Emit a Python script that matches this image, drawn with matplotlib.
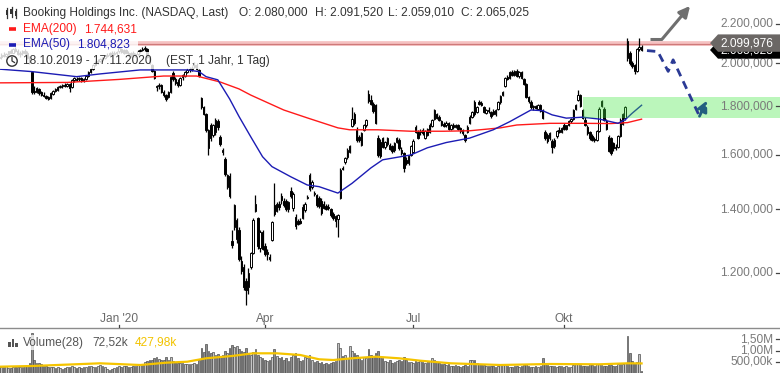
import matplotlib
matplotlib.use("Agg")
import matplotlib.pyplot as plt
import numpy as np
from matplotlib.patches import Polygon, Rectangle, Circle
from matplotlib.ticker import NullLocator
from matplotlib.transforms import blended_transform_factory

W, H = 780, 373
plt.rcParams["font.family"] = ["Liberation Sans", "DejaVu Sans"]

# daily candles 18.10.2019 - 17.11.2020 (one entry per trading day)
opens = [
    2025, 2030, 2042, 2035, 2046, 2058, 2052, 2070, 2060, 2045,
    2050, 2060, 2050, 2025, 1955, 1868, 1865, 1878, 1862, 1852,
    1846, 1840, 1836, 1856, 1868, 1875, 1888, 1890, 1896, 1892,
    1900, 1888, 1918, 1926, 1922, 1928, 1915, 1922, 1938, 1958,
    1970, 1990, 2005, 2012, 2018, 2026, 2034, 2042, 2050, 2046,
    2052, 2058, 2070, 2052, 2066, 2052, 2042, 2048, 2038, 2046,
    2060, 2066, 2070, 2072, 2030, 1990, 1960, 1885, 1890, 1895,
    1862, 1850, 1840, 1865, 1950, 1925, 1912, 1895, 1932, 1940,
    1955, 1968, 1972, 1980, 1990, 1968, 1837, 1795, 1765, 1625,
    1722, 1680, 1690, 1738, 1672, 1610, 1585, 1480, 1520, 1296,
    1340, 1302, 1330, 1235, 1218, 1175, 1160, 1218, 1260, 1395,
    1370, 1275, 1325, 1280, 1255, 1248, 1300, 1415, 1395, 1418,
    1445, 1430, 1430, 1400, 1465, 1405, 1375, 1360, 1362, 1372,
    1398, 1440, 1470, 1478, 1455, 1450, 1440, 1430, 1420, 1412,
    1410, 1400, 1385, 1362, 1368, 1440, 1548, 1570, 1590, 1610,
    1715, 1765, 1700, 1672, 1640, 1700, 1718, 1855, 1830, 1812,
    1805, 1668, 1650, 1665, 1630, 1642, 1640, 1635, 1618, 1650,
    1660, 1620, 1605, 1580, 1568, 1600, 1610, 1712, 1690, 1690,
    1700, 1668, 1680, 1690, 1715, 1745, 1765, 1755, 1735, 1725,
    1718, 1728, 1705, 1718, 1712, 1720, 1706, 1698, 1680, 1690,
    1730, 1755, 1820, 1775, 1820, 1815, 1795, 1772, 1786, 1775,
    1780, 1765, 1790, 1818, 1850, 1892, 1935, 1928, 1955, 1944,
    1962, 1940, 1955, 1925, 1900, 1840, 1820, 1796, 1800, 1790,
    1805, 1782, 1690, 1680, 1665, 1655, 1635, 1675, 1700, 1690,
    1722, 1705, 1718, 1735, 1745, 1790, 1828, 1850, 1784, 1740,
    1712, 1690, 1675, 1662, 1660, 1695, 1800, 1790, 1738, 1670,
    1665, 1645, 1630, 1630, 1675, 1724, 1748, 2025, 2050, 2000,
    1990, 1962, 2070, 2080,
]
highs = [
    2040, 2048, 2055, 2050, 2062, 2070, 2075, 2078, 2068, 2058,
    2065, 2070, 2058, 2035, 1962, 1892, 1886, 1884, 1870, 1862,
    1852, 1846, 1862, 1872, 1880, 1893, 1898, 1900, 1905, 1906,
    1904, 1925, 1932, 1934, 1932, 1935, 1928, 1945, 1962, 1975,
    1995, 2012, 2020, 2025, 2030, 2040, 2048, 2055, 2060, 2058,
    2060, 2078, 2076, 2070, 2072, 2060, 2055, 2058, 2052, 2065,
    2072, 2078, 2085, 2076, 2035, 1998, 1965, 1898, 1905, 1900,
    1872, 1855, 1870, 1940, 1960, 1935, 1922, 1935, 1948, 1962,
    1975, 1980, 1988, 2005, 2000, 1972, 1842, 1802, 1770, 1705,
    1728, 1725, 1750, 1745, 1680, 1625, 1592, 1528, 1530, 1330,
    1420, 1370, 1340, 1250, 1225, 1185, 1215, 1262, 1370, 1450,
    1375, 1330, 1330, 1290, 1270, 1255, 1362, 1495, 1425, 1428,
    1458, 1440, 1435, 1430, 1480, 1460, 1385, 1368, 1370, 1420,
    1425, 1450, 1530, 1505, 1465, 1455, 1448, 1440, 1428, 1420,
    1418, 1405, 1390, 1382, 1385, 1550, 1556, 1590, 1625, 1640,
    1795, 1775, 1710, 1680, 1690, 1725, 1745, 1874, 1850, 1818,
    1812, 1680, 1662, 1672, 1655, 1672, 1648, 1640, 1650, 1672,
    1665, 1632, 1612, 1590, 1600, 1640, 1662, 1720, 1698, 1705,
    1706, 1700, 1708, 1728, 1745, 1790, 1772, 1762, 1742, 1732,
    1735, 1734, 1725, 1728, 1726, 1724, 1712, 1704, 1684, 1718,
    1762, 1780, 1830, 1800, 1826, 1822, 1800, 1790, 1795, 1780,
    1790, 1788, 1825, 1850, 1870, 1935, 1945, 1960, 1965, 1968,
    1970, 1962, 1962, 1930, 1905, 1848, 1826, 1806, 1808, 1810,
    1812, 1788, 1700, 1688, 1692, 1662, 1665, 1700, 1712, 1712,
    1728, 1722, 1740, 1748, 1790, 1812, 1874, 1856, 1790, 1752,
    1718, 1695, 1682, 1670, 1700, 1795, 1830, 1798, 1745, 1678,
    1672, 1650, 1642, 1680, 1750, 1770, 1800, 2126, 2060, 2010,
    1998, 2075, 2126, 2091.52,
]
lows = [
    2010, 2022, 2030, 2028, 2040, 2048, 2050, 2055, 2040, 2030,
    2042, 2045, 2020, 1995, 1855, 1855, 1858, 1852, 1845, 1840,
    1832, 1826, 1832, 1850, 1862, 1870, 1880, 1882, 1885, 1888,
    1866, 1884, 1912, 1915, 1915, 1912, 1910, 1918, 1935, 1952,
    1965, 1985, 1998, 2005, 2010, 2018, 2028, 2035, 2040, 2038,
    2040, 2050, 2048, 2045, 2048, 2035, 2030, 2032, 2030, 2040,
    2052, 2058, 2062, 2025, 1995, 1955, 1922, 1868, 1878, 1860,
    1840, 1825, 1835, 1860, 1915, 1895, 1888, 1890, 1920, 1935,
    1950, 1958, 1962, 1975, 1965, 1932, 1790, 1762, 1690, 1600,
    1655, 1672, 1680, 1700, 1635, 1598, 1520, 1470, 1440, 1275,
    1330, 1290, 1235, 1195, 1150, 1110, 1140, 1210, 1255, 1390,
    1272, 1262, 1268, 1250, 1238, 1236, 1295, 1378, 1390, 1398,
    1420, 1408, 1395, 1392, 1440, 1395, 1335, 1348, 1350, 1368,
    1392, 1435, 1465, 1470, 1448, 1410, 1405, 1380, 1400, 1398,
    1398, 1375, 1366, 1340, 1310, 1436, 1540, 1565, 1585, 1605,
    1710, 1720, 1650, 1652, 1634, 1695, 1712, 1815, 1805, 1770,
    1725, 1590, 1588, 1625, 1622, 1635, 1618, 1608, 1612, 1645,
    1618, 1598, 1535, 1560, 1562, 1595, 1605, 1685, 1662, 1678,
    1680, 1662, 1676, 1685, 1710, 1740, 1745, 1738, 1715, 1710,
    1712, 1698, 1698, 1704, 1706, 1698, 1688, 1680, 1650, 1686,
    1725, 1748, 1760, 1770, 1805, 1802, 1770, 1766, 1772, 1750,
    1762, 1760, 1786, 1812, 1845, 1888, 1920, 1922, 1938, 1940,
    1935, 1930, 1925, 1895, 1835, 1815, 1790, 1785, 1788, 1785,
    1775, 1744, 1658, 1648, 1660, 1606, 1628, 1668, 1685, 1686,
    1700, 1700, 1714, 1728, 1740, 1785, 1822, 1795, 1745, 1715,
    1678, 1660, 1655, 1650, 1655, 1690, 1795, 1735, 1698, 1610,
    1598, 1615, 1620, 1625, 1670, 1718, 1742, 2010, 1990, 1975,
    1948, 1955, 2060, 2059.01,
]
closes = [
    2030, 2042, 2035, 2046, 2058, 2052, 2070, 2060, 2045, 2050,
    2060, 2050, 2025, 2005, 1862, 1865, 1880, 1860, 1850, 1845,
    1838, 1834, 1858, 1868, 1876, 1888, 1892, 1896, 1890, 1902,
    1884, 1920, 1928, 1920, 1928, 1915, 1922, 1940, 1958, 1970,
    1990, 2005, 2012, 2018, 2026, 2034, 2042, 2050, 2046, 2052,
    2054, 2074, 2056, 2066, 2052, 2042, 2048, 2038, 2046, 2060,
    2066, 2070, 2075, 2030, 2002, 1962, 1930, 1890, 1898, 1865,
    1850, 1832, 1862, 1935, 1925, 1905, 1895, 1930, 1942, 1955,
    1968, 1972, 1978, 1990, 1970, 1938, 1795, 1768, 1700, 1698,
    1665, 1718, 1742, 1710, 1642, 1618, 1526, 1522, 1446, 1285,
    1415, 1366, 1242, 1205, 1158, 1150, 1200, 1258, 1365, 1420,
    1280, 1325, 1272, 1255, 1262, 1240, 1358, 1385, 1418, 1410,
    1432, 1415, 1400, 1425, 1448, 1452, 1345, 1352, 1356, 1410,
    1418, 1442, 1522, 1498, 1458, 1416, 1412, 1388, 1405, 1402,
    1404, 1382, 1372, 1378, 1380, 1540, 1545, 1588, 1618, 1635,
    1745, 1730, 1660, 1660, 1685, 1720, 1740, 1825, 1812, 1778,
    1730, 1600, 1595, 1632, 1650, 1668, 1622, 1615, 1645, 1668,
    1625, 1605, 1548, 1566, 1595, 1635, 1655, 1690, 1668, 1696,
    1686, 1695, 1704, 1722, 1740, 1782, 1750, 1742, 1722, 1716,
    1730, 1702, 1720, 1712, 1722, 1702, 1694, 1686, 1658, 1712,
    1755, 1775, 1768, 1795, 1810, 1806, 1775, 1786, 1778, 1758,
    1768, 1784, 1820, 1845, 1866, 1928, 1925, 1955, 1944, 1962,
    1940, 1958, 1930, 1900, 1842, 1822, 1796, 1800, 1792, 1806,
    1780, 1750, 1665, 1655, 1688, 1630, 1660, 1695, 1690, 1708,
    1705, 1718, 1736, 1745, 1785, 1808, 1850, 1800, 1750, 1720,
    1685, 1665, 1660, 1658, 1695, 1790, 1825, 1742, 1705, 1615,
    1605, 1625, 1627, 1675, 1742, 1765, 1795, 2110, 2000, 1985,
    1960, 2070, 2080, 2065.025,
]
volume_k = [
    280, 250, 260, 300, 240, 230, 270, 300, 280, 260,
    250, 300, 320, 450, 1800, 580, 450, 430, 380, 320,
    300, 280, 260, 250, 230, 260, 240, 200, 220, 250,
    280, 300, 260, 240, 250, 230, 260, 280, 300, 320,
    290, 270, 300, 350, 320, 280, 180, 150, 200, 220,
    280, 300, 260, 330, 300, 280, 260, 300, 320, 340,
    350, 420, 500, 520, 600, 560, 650, 700, 620, 580,
    560, 700, 600, 720, 520, 480, 430, 460, 440, 420,
    380, 400, 420, 450, 400, 600, 1100, 950, 1300, 1000,
    900, 950, 800, 850, 750, 800, 1000, 900, 1100, 1250,
    1150, 1200, 1050, 1000, 950, 1100, 900, 800, 950, 1050,
    800, 700, 650, 600, 550, 600, 700, 1050, 750, 650,
    700, 600, 650, 550, 700, 800, 900, 650, 550, 600,
    700, 650, 800, 600, 500, 550, 450, 500, 400, 450,
    400, 450, 500, 550, 1330, 1100, 750, 800, 650, 1200,
    1000, 900, 800, 650, 600, 700, 650, 1060, 800, 750,
    900, 1000, 700, 650, 550, 500, 600, 450, 500, 550,
    600, 550, 700, 600, 500, 480, 450, 550, 500, 520,
    480, 450, 500, 550, 650, 600, 500, 450, 400, 380,
    350, 380, 330, 300, 350, 320, 280, 300, 350, 330,
    580, 560, 600, 450, 400, 380, 350, 330, 300, 320,
    300, 280, 330, 350, 400, 380, 300, 280, 260, 300,
    320, 280, 300, 350, 380, 300, 280, 260, 300, 280,
    320, 650, 400, 350, 300, 330, 300, 280, 320, 300,
    280, 300, 260, 280, 350, 380, 400, 350, 330, 300,
    320, 400, 350, 300, 380, 420, 350, 330, 300, 400,
    360, 320, 300, 380, 400, 420, 450, 1650, 900, 520,
    450, 500, 850, 73,
]

# indicator lines (day index, value)
ema200_day = [0, 29, 51, 70, 84, 94, 102, 107, 121, 131, 144, 149, 161, 175, 189, 200, 213, 220, 234, 248, 260, 267, 273]
ema200_val = [1906, 1908, 1922, 1938, 1938, 1910, 1878, 1850, 1784, 1750, 1708, 1700, 1700, 1694, 1694, 1696, 1708, 1720, 1727, 1727, 1726, 1730, 1744.6]
ema50_day = [0, 14, 33, 43, 60, 80, 85, 88, 93, 98, 102, 107, 112, 116, 124, 131, 136, 144, 150, 158, 163, 175, 182, 190, 200, 210, 217, 226, 231, 235, 241, 248, 255, 263, 266, 269, 273]
ema50_val = [1971, 1959, 1935, 1948, 1967, 1967, 1959, 1935, 1920, 1833, 1756, 1671, 1592, 1554, 1516, 1486, 1480, 1457, 1492, 1549, 1580, 1599, 1627, 1648, 1666, 1700, 1734, 1784, 1781, 1763, 1749, 1753, 1745, 1727, 1742, 1770, 1804.8]
volma_day = [0, 14, 43, 60, 71, 80, 88, 99, 108, 118, 128, 136, 142, 150, 160, 170, 179, 192, 213, 234, 255, 267, 273]
volma_k = [281, 312, 433, 357, 460, 504, 656, 759, 879, 879, 804, 612, 580, 656, 728, 656, 549, 433, 357, 402, 388, 433, 428]

month_day = [51, 113, 176, 240]
month_labels = ["Jan '20", "Apr", "Jul", "Okt"]
price_ticks = [1200, 1400, 1600, 1800, 2000, 2200]
vol_ticks = [500, 1000, 1500]
vol_tick_labels = ["500,00k", "1,00M", "1,50M"]

last_price = 2099.976
last_close = 2065.025
zone_low, zone_high, zone_start = 1748, 1840, 248

# hand-drawn scenario arrows (day index, price)
up_arrow_day = [276.6, 281.7, 293.6]
up_arrow_val = [2120, 2120, 2299]
down_path_day = [275.3, 279.9, 284.3, 286.4, 297.6, 300.8]
down_path_val = [2062, 2057, 1960, 2016, 1757, 1826]


def de_num(v, dec=3):
    s = f"{v:,.{dec}f}"
    return s.replace(",", "X").replace(".", ",").replace("X", ".")


fig = plt.figure(figsize=(W / 100, H / 100), dpi=100)
ax = fig.add_axes([0, 45 / H, 1, 328 / H])
vol = fig.add_axes([0, 0, 1, 44 / H])
ov = fig.add_axes([0, 0, 1, 1], zorder=20)
ov.set_xlim(0, W)
ov.set_ylim(H, 0)
ov.axis("off")
ov.patch.set_alpha(0)

days = np.arange(len(closes))
o = np.array(opens, float)
c = np.array(closes, float)
hi = np.array(highs, float)
lo = np.array(lows, float)
up = c >= o

ax.set_yscale("log")
ax.set_xlim(0.47, 331.8)
ax.set_ylim(1048.7, 2332.5)
ax.set_xticks([])
ax.set_yticks([])
ax.yaxis.set_minor_locator(NullLocator())
for side in ["top", "right", "left"]:
    ax.spines[side].set_visible(False)
ax.spines["bottom"].set_color("#8c8c8c")
ax.spines["bottom"].set_linewidth(1)

# candles
ax.vlines(days, lo, hi, color="black", lw=0.9, zorder=3)
body_lo = np.minimum(o, c)
body_hi = np.maximum(o, c)
ax.bar(days, body_hi - body_lo, bottom=body_lo, width=0.62,
       color=np.where(up, "white", "black"), edgecolor="black",
       linewidth=0.7, zorder=4)

ax.plot(ema200_day, ema200_val, color="#ff1a1a", lw=1.0, zorder=5)
ax.plot(ema50_day, ema50_val, color="#1c1cb4", lw=1.0, zorder=5)

# current price line
ax.axhline(last_price, xmax=710 / W, color="#f5c2c2", lw=3.4, zorder=2)
ax.axhline(last_price * 0.998, xmax=710 / W, color="#cf7a7a", lw=0.9, zorder=2)

# target zone
ax.add_patch(Rectangle((zone_start, zone_low), 200, zone_high - zone_low,
                       facecolor=(0.24, 0.9, 0.24), alpha=0.35, lw=0, zorder=6))

# scenario arrows
ax.plot(up_arrow_day[:2], up_arrow_val[:2], color="#6f6f6f", lw=2.2, zorder=7,
        solid_capstyle="butt")
ax.annotate("", xy=(up_arrow_day[2], up_arrow_val[2]),
            xytext=(up_arrow_day[1], up_arrow_val[1]),
            arrowprops=dict(arrowstyle="-|>", color="#6f6f6f", lw=2.2,
                            mutation_scale=16, shrinkA=0, shrinkB=0), zorder=7)
ax.plot(down_path_day[:-1], down_path_val[:-1], color="#2b3a95", lw=2.0,
        ls=(0, (3, 2)), zorder=7)
ax.annotate("", xy=(down_path_day[-1], down_path_val[-1]),
            xytext=(down_path_day[-2], down_path_val[-2]),
            arrowprops=dict(arrowstyle="-|>", color="#235f80", lw=2.0, ls="--",
                            mutation_scale=16, shrinkA=0, shrinkB=0), zorder=7)

# price axis labels (inside, right)
ytr = blended_transform_factory(ax.transAxes, ax.transData)
for p in price_ticks:
    ax.text(773 / W, p, de_num(p), transform=ytr, ha="right", va="center",
            fontsize=8.6, color="#7a7a7a", zorder=8)
    ax.plot([776 / W, 780 / W], [p, p], transform=ytr, color="#444444",
            lw=0.9, zorder=8)

# month labels (inside, bottom)
xtr = blended_transform_factory(ax.transData, ax.transAxes)
for d, lab in zip(month_day, month_labels):
    ax.text(d, 9 / 328, lab, transform=xtr, ha="center", va="center",
            fontsize=8.6, color="#6a6a6a", zorder=8)
    ax.plot([d, d], [0, 3 / 328], transform=xtr, color="#444444", lw=0.9,
            zorder=8)

# volume panel
vol.set_xlim(ax.get_xlim())
vol.set_ylim(0, 1964)
vol.axis("off")
vol.bar(days, volume_k, width=0.72, color=np.where(up, "#c4c4c4", "#8e8e8e"),
        edgecolor="#4d4d4d", linewidth=0.5)
vol.plot(volma_day, volma_k, color="#f5c400", lw=1.6)
vtr = blended_transform_factory(vol.transAxes, vol.transData)
for v, lab in zip(vol_ticks, vol_tick_labels):
    vol.text(773 / W, v, lab, transform=vtr, ha="right", va="center",
             fontsize=8.6, color="#7a7a7a")
    vol.plot([776 / W, 780 / W], [v, v], transform=vtr, color="#444444", lw=0.9)


def to_pix(price):
    return H - ax.transData.transform((0, price))[1]


# price tags on the right edge (close tag sits behind the live-price tag)
z = 30
for price, face in [(last_close, "black"), (last_price, "#6b6765")]:
    yc = to_pix(price)
    ov.add_patch(Polygon([(710, yc), (718, yc - 8.7), (W, yc - 8.7),
                          (W, yc + 8.7), (718, yc + 8.7)], closed=True,
                         facecolor=face, edgecolor="none", zorder=z))
    ov.text(773, yc + 0.5, de_num(price), ha="right", va="center",
            fontsize=8.6, color="white", zorder=z + 1)
    z += 2

# legend block
for x1, y0, y1 in [(540, 3, 21), (140, 21, 37), (138, 37, 52), (270, 52, 69)]:
    ov.add_patch(Rectangle((0, y0), x1, y1 - y0, facecolor="white",
                           alpha=0.82, edgecolor="none"))
fs = 8.6
ov.text(23, 12.7, "Booking Holdings Inc. (NASDAQ, Last)", va="center",
        fontsize=fs, color="#333333")
for x, t in [(239, "O: 2.080,000"), (315, "H: 2.091,520"),
             (388, "L: 2.059,010"), (461, "C: 2.065,025")]:
    ov.text(x, 12.7, t, va="center", fontsize=fs, color="#333333")
for cx, y0, y1, b0, b1 in [(7, 8, 18, 10, 15), (11.5, 7, 17, 9, 14), (16, 9, 18, 11, 16)]:
    ov.plot([cx, cx], [y0, y1], color="#333333", lw=0.9)
    ov.add_patch(Rectangle((cx - 1.3, b0), 2.6, b1 - b0, facecolor="#333333",
                           edgecolor="none"))
ov.plot([9, 16], [29, 29], color="#ff1a1a", lw=2.6, solid_capstyle="butt")
ov.text(23, 29, "EMA(200)", va="center", fontsize=fs, color="#ff1a1a")
ov.text(84, 29, "1.744,631", va="center", fontsize=fs, color="#ff1a1a")
ov.plot([9, 16], [44.5, 44.5], color="#1c1cb4", lw=2.6, solid_capstyle="butt")
ov.text(23, 44.3, "EMA(50)", va="center", fontsize=fs, color="#1c1cb4")
ov.text(77, 44.3, "1.804,823", va="center", fontsize=fs, color="#1c1cb4")
ov.add_patch(Circle((12, 61), 5.2, facecolor="none", edgecolor="#333333", lw=1.0))
ov.plot([12, 12, 14.5], [57.5, 61, 62.5], color="#333333", lw=0.9)
ov.text(23, 61, "18.10.2019 - 17.11.2020", va="center", fontsize=fs,
        color="#333333")
ov.text(166, 61, "(EST, 1 Jahr, 1 Tag)", va="center", fontsize=fs,
        color="#333333")

# volume legend
ov.add_patch(Rectangle((0, 335), 185, 15, facecolor="white", alpha=0.75,
                       edgecolor="none"))
for bx, bh in [(8, 5), (11.5, 8), (15, 4)]:
    ov.add_patch(Rectangle((bx, 347 - bh), 2.6, bh, facecolor="#555555",
                           edgecolor="none"))
ov.text(23, 342.7, "Volume(28)", va="center", fontsize=fs, color="#555555")
ov.text(92, 342.7, "72,52k", va="center", fontsize=fs, color="#555555")
ov.text(135, 342.7, "427,98k", va="center", fontsize=fs, color="#f2c300")

fig.savefig("out.png", dpi=100)
